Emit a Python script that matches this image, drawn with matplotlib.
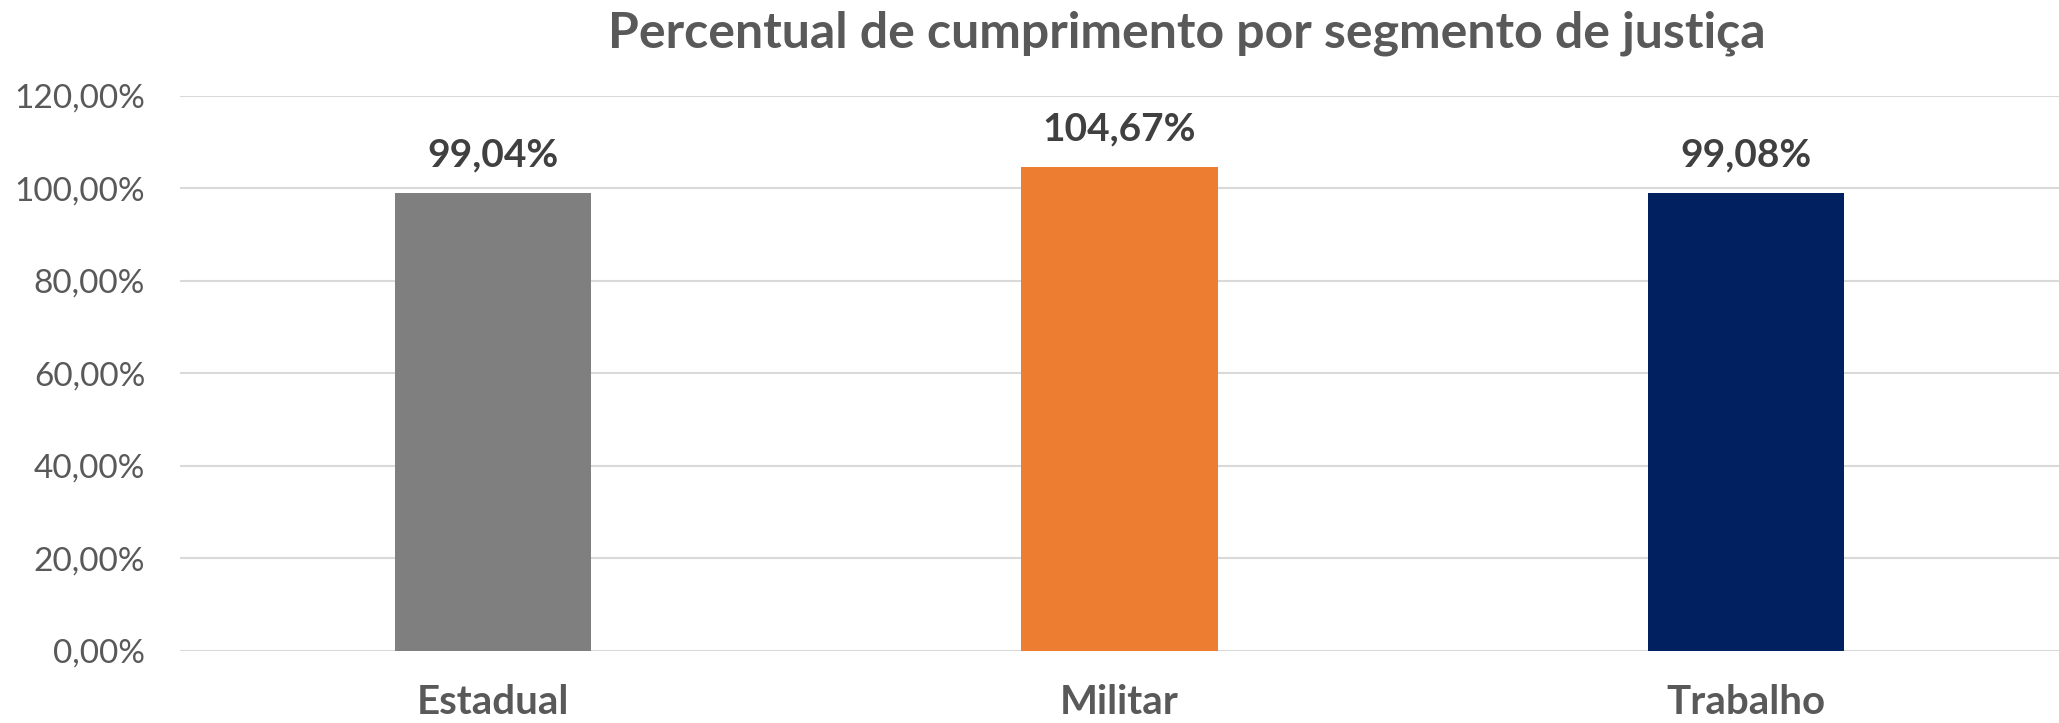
import matplotlib
matplotlib.use("Agg")
import matplotlib.pyplot as plt
from matplotlib.ticker import FuncFormatter

# data
segmentos = ["Estadual", "Militar", "Trabalho"]
percentuais = [0.9904, 1.0467, 0.9908]
cores = ["#7F7F7F", "#ED7D31", "#002060"]
yticks = [0.0, 0.2, 0.4, 0.6, 0.8, 1.0, 1.2]

plt.rcParams['font.family'] = ['Lato', 'DejaVu Sans']

fig = plt.figure(figsize=(20.59, 7.23), dpi=100)
ax = fig.add_axes([0.0874, 0.0996, 0.9126, 0.768])

x = range(len(segmentos))
ax.bar(x, percentuais, width=0.313, color=cores, zorder=3)

def pct(v, pos=None):
    return ("%.2f%%" % (v * 100)).replace(".", ",")

for i, v in enumerate(percentuais):
    ax.annotate(pct(v), (i, v), xytext=(0, 27), textcoords="offset points",
                ha="center", va="center", fontsize=28, fontweight="bold",
                color="#404040")

ax.set_xlim(-0.5, 2.5)
ax.set_ylim(0, 1.2)
ax.set_yticks(yticks)
ax.yaxis.set_major_formatter(FuncFormatter(pct))
ax.set_xticks(list(x))
ax.set_xticklabels(segmentos, fontsize=29, fontweight="bold", color="#595959")
ax.tick_params(axis="y", labelsize=24, labelcolor="#595959", length=0, pad=25)
ax.tick_params(axis="x", length=0, pad=24)
ax.grid(axis="y", color="#D9D9D9", linewidth=1.5, zorder=0)
for s in ax.spines.values():
    s.set_visible(False)

fig.text(0.5766, 0.954, "Percentual de cumprimento por segmento de justiça",
         ha="center", va="center", fontsize=36, fontweight="bold", color="#595959")

fig.savefig("out.png", dpi=100)
